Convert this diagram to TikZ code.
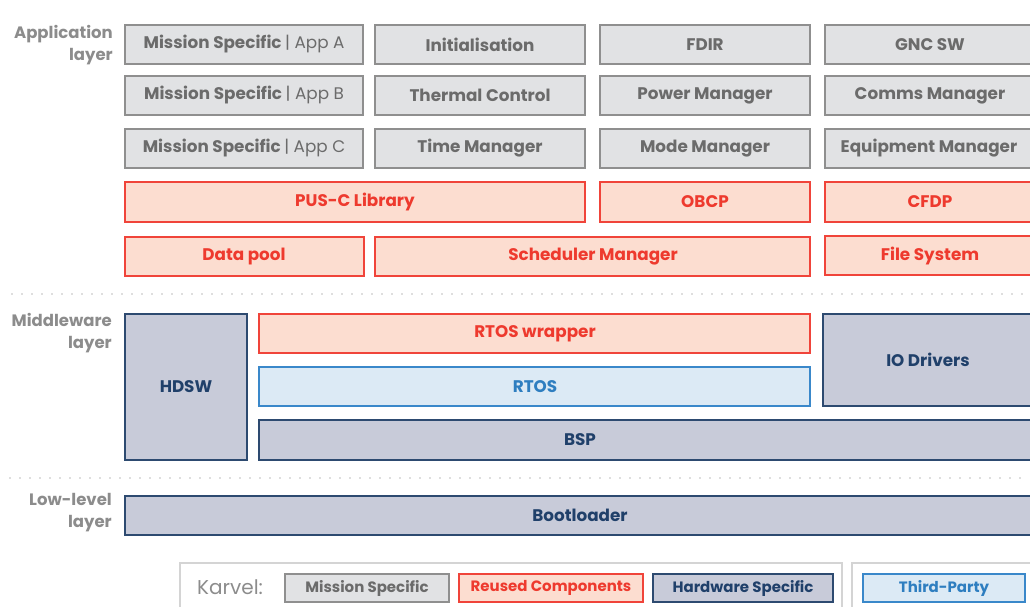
\documentclass[tikz,border=0pt]{standalone}
\usepackage{fontspec}
\setmainfont{Poppins}
\usetikzlibrary{fit}
\definecolor{msfill}{HTML}{E1E2E4}
\definecolor{msdraw}{HTML}{8F8F8F}
\definecolor{mstext}{HTML}{6B6B6B}
\definecolor{rcfill}{HTML}{FCDDD0}
\definecolor{rcdraw}{HTML}{F0443A}
\definecolor{rctext}{HTML}{EE3A2E}
\definecolor{hwfill}{HTML}{C8CBD9}
\definecolor{hwdraw}{HTML}{2D4A70}
\definecolor{hwtext}{HTML}{20406A}
\definecolor{tpfill}{HTML}{DCEAF5}
\definecolor{tpdraw}{HTML}{3A88CA}
\definecolor{tptext}{HTML}{2E7EC0}
\definecolor{lbl}{HTML}{8C8C8C}
\definecolor{dotc}{HTML}{BDBDBD}
\definecolor{frame}{HTML}{D4D4D4}
\newcommand\blk[8]{\node[#6, fit={(#2,#3)(#4,#5)}] (#1) {};
  \node[#6txt] (#1t) at (#7,{(#3+#5)/2}) {#8};}
\begin{document}
\begin{tikzpicture}[x=1pt,y=-1pt,
  boxbase/.style={inner sep=0pt, line width=2pt},
  ms/.style={boxbase, fill=msfill, draw=msdraw},
  rc/.style={boxbase, fill=rcfill, draw=rcdraw},
  hw/.style={boxbase, fill=hwfill, draw=hwdraw},
  tp/.style={boxbase, fill=tpfill, draw=tpdraw},
  boxfont/.style={inner sep=0pt, font=\bfseries\fontsize{16.8}{20}\selectfont},
  mstxt/.style={boxfont, text=mstext},
  rctxt/.style={boxfont, text=rctext},
  hwtxt/.style={boxfont, text=hwtext},
  tptxt/.style={boxfont, text=tptext},
  lg/.style={line width=1.5pt, inner sep=0pt},
  lgms/.style={lg, fill=msfill, draw=msdraw},
  lgrc/.style={lg, fill=rcfill, draw=rcdraw},
  lghw/.style={lg, fill=hwfill, draw=hwdraw},
  lgtp/.style={lg, fill=tpfill, draw=tpdraw},
  lgfont/.style={inner sep=0pt, font=\bfseries\fontsize{15}{17}\selectfont},
  lgmstxt/.style={lgfont, text=mstext},
  lgrctxt/.style={lgfont, text=rctext},
  lghwtxt/.style={lgfont, text=hwtext},
  lgtptxt/.style={lgfont, text=tptext},
  layer/.style={anchor=north east, align=right, text=lbl, inner sep=0pt,
    font=\bfseries\fontsize{16.5}{22}\selectfont},
  dotline/.style={draw=dotc, line width=1.6pt, line cap=round, dash pattern=on 0pt off 10pt}
]
\useasboundingbox (0,0) rectangle (1030,607);
\clip (0,0) rectangle (1030,607);
% layer labels
\node[layer] (applbl) at (113,25) {Application\\layer};
\node[layer] (midlbl) at (112,313) {Middleware\\layer};
\node[layer] (lowlbl) at (112,493) {Low-level\\layer};
% separators
\coordinate (d1a) at (12,294); \coordinate (d1b) at (1030,294);
\coordinate (d2a) at (10,478); \coordinate (d2b) at (1030,478);
\draw[dotline] (d1a) -- (d1b);
\draw[dotline] (d2a) -- (d2b);
% application layer
\blk{appa}{125}{25}{363}{64}{ms}{244}{Mission Specific {\mdseries| App A}}
\blk{init}{375}{25}{585}{64}{ms}{480}{Initialisation}
\blk{fdir}{600}{25}{810}{64}{ms}{705}{FDIR}
\blk{gnc}{825}{25}{1036}{64}{ms}{930}{GNC SW}
\blk{appb}{125}{76}{363}{115}{ms}{244}{Mission Specific {\mdseries| App B}}
\blk{therm}{375}{76}{585}{115}{ms}{480}{Thermal Control}
\blk{power}{600}{76}{810}{115}{ms}{705}{Power Manager}
\blk{comms}{825}{76}{1036}{115}{ms}{930}{Comms Manager}
\blk{appc}{125}{129}{363}{168}{ms}{244}{Mission Specific {\mdseries| App C}}
\blk{time}{375}{129}{585}{168}{ms}{480}{Time Manager}
\blk{mode}{600}{129}{810}{168}{ms}{705}{Mode Manager}
\blk{equip}{825}{129}{1036}{168}{ms}{929}{Equipment Manager}
\blk{pus}{125}{182}{585}{222}{rc}{355}{PUS-C Library}
\blk{obcp}{600}{182}{810}{222}{rc}{705}{OBCP}
\blk{cfdp}{825}{182}{1036}{222}{rc}{930}{CFDP}
\blk{pool}{125}{237}{364}{276}{rc}{244}{Data pool}
\blk{sched}{375}{237}{810}{276}{rc}{593}{Scheduler Manager}
\blk{fs}{825}{236}{1036}{275}{rc}{930}{File System}
% middleware layer
\blk{hdsw}{125}{314}{247}{460}{hw}{186}{HDSW}
\blk{rtosw}{259}{314}{810}{353}{rc}{535}{RTOS wrapper}
\blk{rtos}{259}{367}{810}{406}{tp}{535}{RTOS}
\blk{io}{823}{314}{1036}{406}{hw}{928}{IO Drivers}
\blk{bsp}{259}{420}{1036}{460}{hw}{580}{BSP}
% low-level layer
\blk{boot}{125}{496}{1036}{535}{hw}{580}{Bootloader}
% legend
\node[draw=frame, line width=1.2pt, inner sep=0pt, fit={(180,563)(842,620)}] (lgframe) {};
\node[draw=frame, line width=1.2pt, inner sep=0pt, fit={(852,563)(1040,620)}] (lgframe2) {};
\node[anchor=west, inner sep=0pt, text=lbl, font=\fontsize{20}{22}\selectfont] (karvel) at (197,587) {Karvel:};
\blk{lgms}{285}{574}{449}{602}{lgms}{367}{Mission Specific}
\blk{lgrc}{459}{574}{643}{602}{lgrc}{551}{Reused Components}
\blk{lghw}{653}{574}{833}{602}{lghw}{743}{Hardware Specific}
\blk{lgtp}{863}{574}{1025}{602}{lgtp}{944}{Third-Party}
\end{tikzpicture}
\end{document}
